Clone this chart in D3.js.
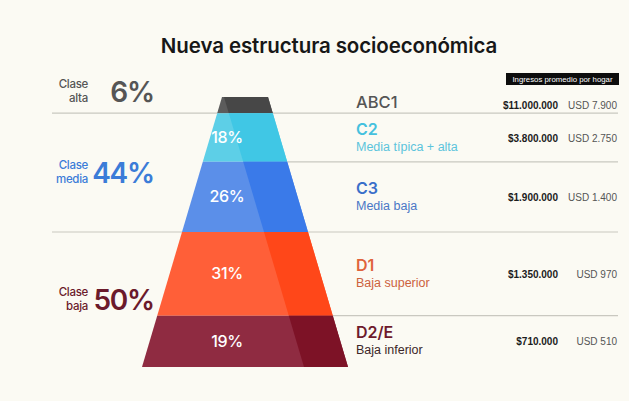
<!DOCTYPE html>
<html>
<head>
  <meta charset="utf-8">
  <script src="https://d3js.org/d3.v7.min.js"></script>
  <style>
    body { margin: 0; background: #fbfaf3; }
    svg { display: block; }
    text { font-family: "Liberation Sans", Arial, sans-serif; }
    .title { font-family: Inter, sans-serif; font-size: 20.5px; font-weight: 600; fill: #171717; letter-spacing: -0.1px; }
    .big { font-family: Inter, sans-serif; font-size: 28px; font-weight: 600; letter-spacing: -1.2px; }
    .clase { font-family: Inter, sans-serif; font-size: 11.5px; font-weight: 500; letter-spacing: -0.3px; }
    .seg { font-family: Inter, sans-serif; font-size: 16px; font-weight: 600; }
    .sub { font-size: 12.5px; }
    .inside { font-family: Inter, sans-serif; font-size: 16px; font-weight: 500; fill: #fff; letter-spacing: -0.3px; }
    .ars { font-size: 10px; font-weight: bold; fill: #1c1c1c; }
    .usd { font-size: 10px; fill: #555; }
    .head { font-size: 7.8px; fill: #fff; }
  </style>
</head>
<body>
  <div id="chart"></div>
  <script>
    // data
    const segments = ["ABC1", "C2", "C3", "D1", "D2/E"];
    const segmentNames = ["", "Media típica + alta", "Media baja", "Baja superior", "Baja inferior"];
    const shares = [6, 18, 26, 31, 19];
    const incomeArs = ["$11.000.000", "$3.800.000", "$1.900.000", "$1.350.000", "$710.000"];
    const incomeUsd = ["USD 7.900", "USD 2.750", "USD 1.400", "USD 970", "USD 510"];
    const classes = ["Clase alta", "Clase media", "Clase baja"];
    const classShares = [6, 44, 50];
    const classSize = [1, 2, 2]; // how many segments each class covers

    // colours
    const lightFill = ["#5c5c5c", "#5dcfe7", "#5b8fe9", "#ff5f38", "#8f2b41"];
    const darkFill = ["#474747", "#40c7e5", "#3a7ae9", "#ff4719", "#7d1226"];
    const segColor = ["#555555", "#45c1de", "#3a6fca", "#e0633b", "#6e1a2c"];
    const subColor = ["#555555", "#5bc4dc", "#4a77c6", "#cc613d", "#3c2628"];
    const classColor = ["#555555", "#3b7cd8", "#6b1a2b"];

    const W = 629, H = 401;
    const svg = d3.select("#chart").append("svg")
      .attr("width", W)
      .attr("height", H);

    svg.append("text")
      .attr("class", "title")
      .attr("x", 329)
      .attr("y", 53)
      .attr("text-anchor", "middle")
      .text("Nueva estructura socioeconómica");

    // pyramid scales
    const y = d3.scaleLinear().domain([0, 100]).range([97, 367]);
    const half = d3.scaleLinear().domain([0, 100]).range([23, 103]);
    const cx = 245, shadeW = 44;
    const left = v => cx - half(v), right = v => cx + half(v);

    const ends = Array.from(d3.cumsum(shares));
    const starts = [0].concat(ends.slice(0, -1));
    const rows = segments.map((s, i) => ({
      i, s, from: starts[i], to: ends[i],
      mid: (y(starts[i]) + y(ends[i])) / 2
    }));

    const classEnds = Array.from(d3.cumsum(classSize)); // segment index after each class
    const classRows = classes.map((c, k) => {
      const from = k === 0 ? 0 : ends[classEnds[k - 1] - 1];
      const to = ends[classEnds[k] - 1];
      const y0 = y(from), y1 = y(to);
      return { c, k, mid: Math.min((y0 + y1) / 2, y1 - 21) };
    });

    // separator lines
    const lineX1 = 618;
    ends.slice(0, -1).forEach((v, i) => {
      const isClass = classEnds.includes(i + 1);
      svg.append("line")
        .attr("x1", isClass ? 52 : right(v))
        .attr("x2", lineX1)
        .attr("y1", y(v))
        .attr("y2", y(v))
        .attr("stroke", "#c9c8c0")
        .attr("stroke-width", 1.2);
    });

    // pyramid bands
    const band = svg.append("g").selectAll("g")
      .data(rows)
      .join("g");

    band.append("path")
      .attr("fill", d => lightFill[d.i])
      .attr("d", d => d3.line()([
        [left(d.from), y(d.from)], [right(d.from), y(d.from)],
        [right(d.to), y(d.to)], [left(d.to), y(d.to)]
      ]) + "Z");

    band.append("path")
      .attr("fill", d => darkFill[d.i])
      .attr("d", d => d3.line()([
        [right(d.from) - shadeW, y(d.from)], [right(d.from), y(d.from)],
        [right(d.to), y(d.to)], [right(d.to) - shadeW, y(d.to)]
      ]) + "Z");

    band.filter(d => shares[d.i] >= 10).append("text")
      .attr("class", "inside")
      .attr("x", cx - 18)
      .attr("y", d => d.mid + 5.5)
      .attr("text-anchor", "middle")
      .text(d => shares[d.i] + "%");

    // right side: segment names and incomes
    const info = svg.append("g").selectAll("g")
      .data(rows)
      .join("g");

    info.append("text")
      .attr("class", "seg")
      .attr("x", 356)
      .attr("y", d => segmentNames[d.i] ? d.mid - 3 : d.mid + 3)
      .attr("fill", d => segColor[d.i])
      .style("font-weight", d => segmentNames[d.i] ? 600 : 500)
      .style("font-size", d => segmentNames[d.i] ? "16px" : "16.5px")
      .text(d => d.s);

    info.append("text")
      .attr("class", "sub")
      .attr("x", 356)
      .attr("y", d => d.mid + 13)
      .attr("fill", d => subColor[d.i])
      .text(d => segmentNames[d.i]);

    info.append("text")
      .attr("class", "ars")
      .attr("x", 558)
      .attr("y", d => d.mid + 4)
      .attr("text-anchor", "end")
      .text(d => incomeArs[d.i]);

    info.append("text")
      .attr("class", "usd")
      .attr("x", 617)
      .attr("y", d => d.mid + 4)
      .attr("text-anchor", "end")
      .text(d => incomeUsd[d.i]);

    // income header
    svg.append("rect")
      .attr("x", 506)
      .attr("y", 73)
      .attr("width", 113)
      .attr("height", 12)
      .attr("fill", "#0d0d0d");
    svg.append("text")
      .attr("class", "head")
      .attr("x", 562.5)
      .attr("y", 82)
      .attr("text-anchor", "middle")
      .text("Ingresos promedio por hogar");

    // left side: class labels
    const cls = svg.append("g").selectAll("g")
      .data(classRows)
      .join("g")
      .attr("fill", d => classColor[d.k]);

    cls.append("text")
      .attr("class", "clase")
      .attr("text-anchor", "end")
      .selectAll("tspan")
      .data(d => d.c.split(" ").map((t, j) => ({ t, j, mid: d.mid })))
      .join("tspan")
      .attr("x", 88)
      .attr("y", t => t.mid - 4 + t.j * 14)
      .text(t => t.t);

    cls.append("text")
      .attr("class", "big")
      .attr("x", 154)
      .attr("y", d => d.mid + 10)
      .attr("text-anchor", "end")
      .text(d => classShares[d.k] + "%");
  </script>
</body>
</html>
